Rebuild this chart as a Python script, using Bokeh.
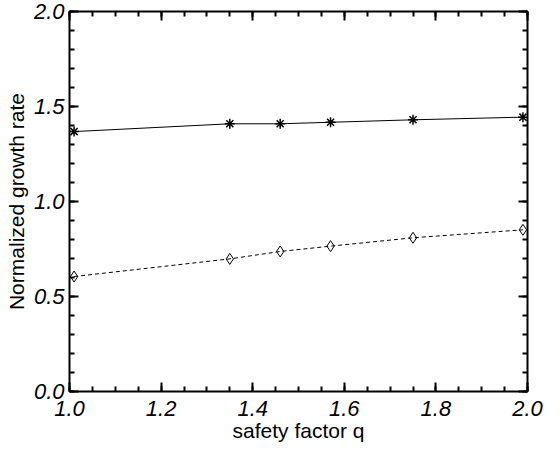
from bokeh.plotting import figure
from bokeh.models import LinearAxis, FixedTicker, Range1d
from bokeh.embed import file_html
from bokeh.resources import INLINE

q_values = [1.01, 1.35, 1.46, 1.57, 1.75, 1.99]
growth_solid = [1.368, 1.409, 1.409, 1.417, 1.430, 1.444]
growth_dashed = [0.605, 0.698, 0.737, 0.765, 0.809, 0.851]

x_major = [1.0, 1.2, 1.4, 1.6, 1.8, 2.0]
x_labels = ["1.0", "1.2", "1.4", "1.6", "1.8", "2.0"]
x_minor = [1.0 + 0.05 * i for i in range(21)]
y_major = [0.0, 0.5, 1.0, 1.5, 2.0]
y_labels = ["0.0", "0.5", "1.0", "1.5", "2.0"]
y_minor = [0.1 * i for i in range(21)]

FONT = "Liberation Sans"

p = figure(width=560, height=455, output_backend="svg", toolbar_location=None,
           x_range=Range1d(1.0, 2.0), y_range=Range1d(0.0, 2.0),
           x_axis_label="safety factor q", y_axis_label="Normalized growth rate",
           min_border_left=69, min_border_right=33, min_border_top=11, min_border_bottom=64)
p.grid.visible = False
p.outline_line_color = None
p.background_fill_color = "white"
p.border_fill_color = "white"

p.line(q_values, growth_solid, line_color="black", line_width=1)
p.scatter(q_values, growth_solid, marker="asterisk", size=10, line_color="black", line_width=1.5)
p.line(q_values, growth_dashed, line_color="black", line_width=1, line_dash="4 3")
p.scatter(q_values, growth_dashed, marker="diamond", size=11, line_color="black",
          fill_color=None, line_width=1)

def style(ax, ticks, minor, labels):
    ax.ticker = FixedTicker(ticks=ticks, minor_ticks=minor)
    ax.axis_line_width = 2
    ax.axis_line_color = "black"
    ax.major_tick_in = 9
    ax.major_tick_out = 0
    ax.minor_tick_in = 5
    ax.minor_tick_out = 0
    ax.major_tick_line_width = 2
    ax.minor_tick_line_width = 2
    ax.major_tick_line_color = "black"
    ax.minor_tick_line_color = "black"
    ax.major_label_overrides = {t: l for t, l in zip(ticks, labels)}
    ax.major_label_text_font = FONT
    ax.major_label_text_font_style = "italic"
    ax.major_label_text_font_size = "22px"
    ax.major_label_text_color = "black"
    ax.axis_label_text_font = FONT
    ax.axis_label_text_font_style = "normal"
    ax.axis_label_text_font_size = "21px"
    ax.axis_label_text_color = "black"

for ax in p.xaxis:
    style(ax, x_major, x_minor, x_labels)
    ax.major_label_standoff = 9
    ax.axis_label_standoff = 0
for ax in p.yaxis:
    style(ax, y_major, y_minor, y_labels)
    ax.major_label_standoff = 5
    ax.axis_label_standoff = 3

top = LinearAxis()
style(top, x_major, x_minor, [""] * len(x_major))
top.major_label_standoff = 0
p.add_layout(top, "above")
right = LinearAxis()
style(right, y_major, y_minor, [""] * len(y_major))
right.major_label_standoff = 0
p.add_layout(right, "right")

open("out.html", "w").write(file_html(p, INLINE))
